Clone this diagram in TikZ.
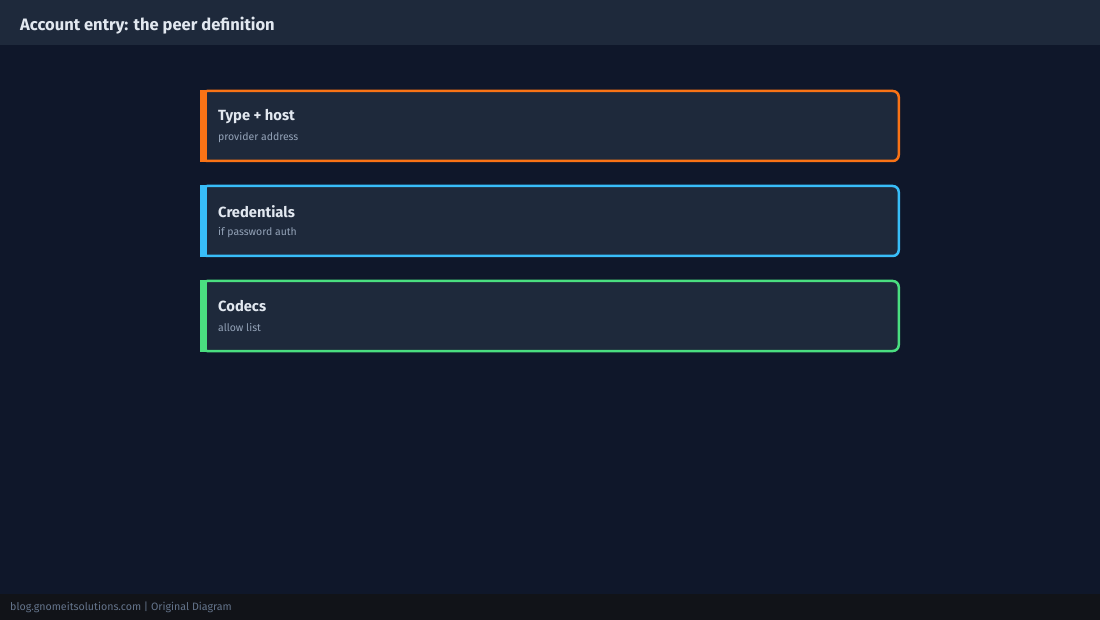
\documentclass[tikz,border=0pt]{standalone}
\usepackage{fontspec}
\setmainfont{Fira Sans}
\definecolor{bg}{HTML}{0F172A}
\definecolor{hdr}{HTML}{1E293B}
\definecolor{boxfill}{HTML}{1E293B}
\definecolor{foot}{HTML}{111318}
\definecolor{ttl}{HTML}{E2E8F0}
\definecolor{sub}{HTML}{94A3B8}
\definecolor{foottxt}{HTML}{64748B}
\definecolor{corange}{HTML}{F97316}
\definecolor{cblue}{HTML}{38BDF8}
\definecolor{cgreen}{HTML}{4ADE80}
\tikzset{
  card/.style={draw=#1, line width=2.5bp, fill=boxfill, rounded corners=6bp},
  bar/.style={fill=#1, draw=none},
  cardtitle/.style={anchor=west, inner sep=0, text=ttl, font=\fontsize{14.8}{17}\selectfont\bfseries},
  cardsub/.style={anchor=west, inner sep=0, text=sub, font=\fontsize{10.5}{12}\selectfont},
}
\begin{document}
\begin{tikzpicture}[x=1bp,y=-1bp]
\fill[bg] (0,0) rectangle (1100,620);
\useasboundingbox (0,0) rectangle (1100,620);
\fill[hdr] (0,0) rectangle (1100,45);
\node[anchor=west, inner sep=0, text=ttl, font=\fontsize{16.6}{19}\selectfont\bfseries] (title) at (20,25.5) {Account entry: the peer definition};
\fill[foot] (0,594) rectangle (1100,620);
\node[anchor=west, inner sep=0, text=foottxt, font=\fontsize{10.7}{12}\selectfont] (footer) at (10,607) {blog.gnomeitsolutions.com | Original Diagram};
% cards
\foreach \y/\c/\t/\s/\n in {91/corange/Type + host/provider address/a, 186/cblue/Credentials/if password auth/b, 281/cgreen/Codecs/allow list/c}{
  \draw[card=\c] (201.25,\y) rectangle (898.75,\y+70);
  \fill[bar=\c] (200,\y-1.25) rectangle (207,\y+71.25);
  \node[cardtitle] (t\n) at (218,\y+25.5) {\t};
  \node[cardsub] (s\n) at (218,\y+46.5) {\s};
}
\end{tikzpicture}
\end{document}
